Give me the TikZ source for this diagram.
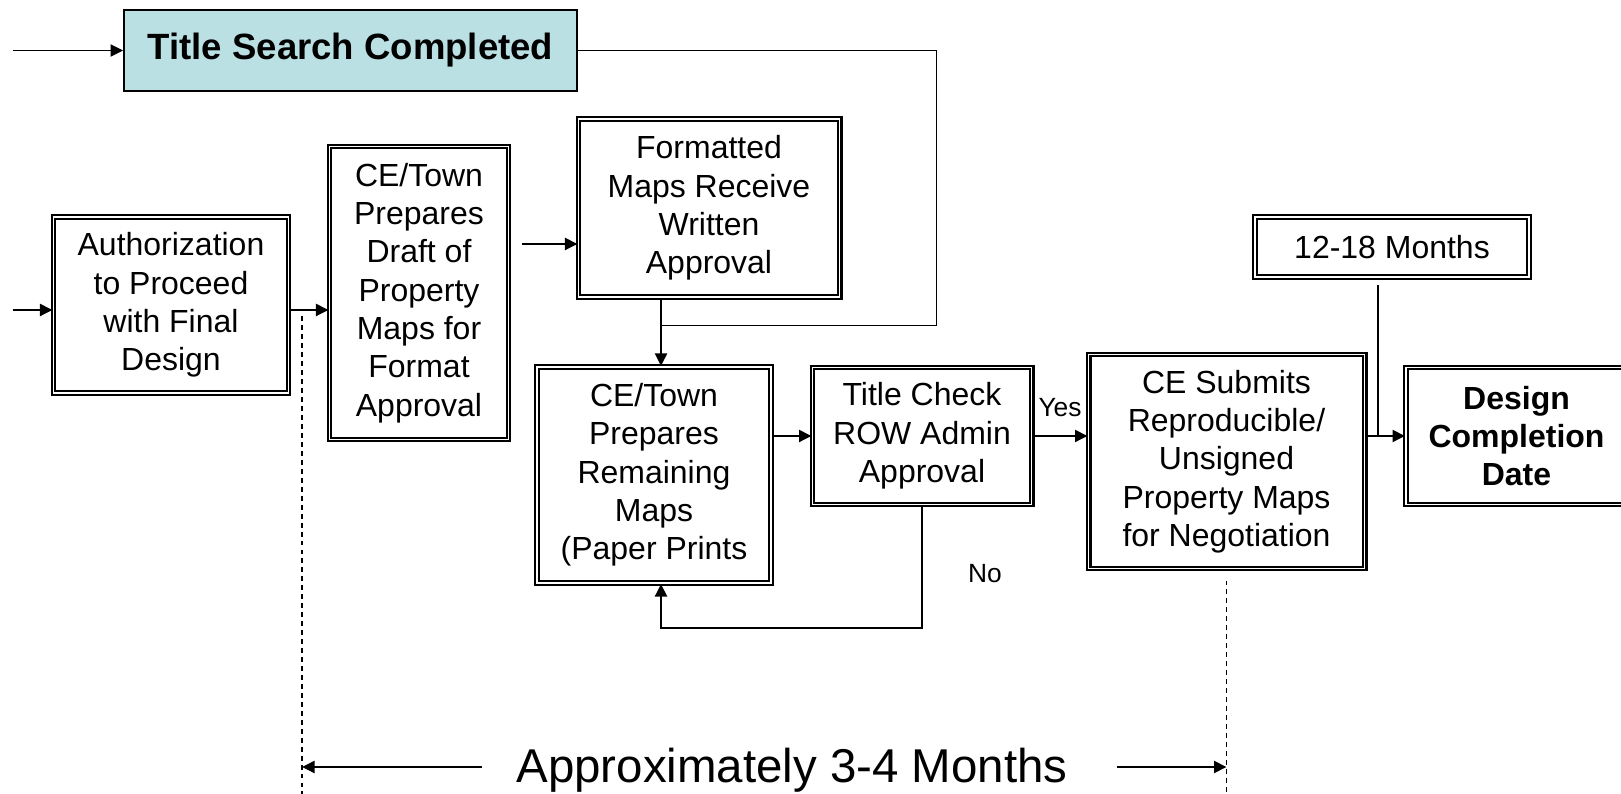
\documentclass[tikz,border=0pt]{standalone}
\usepackage{fontspec}
\setmainfont{Liberation Sans}
\usepackage{xcolor}
\usetikzlibrary{arrows.meta,positioning,calc}
\definecolor{title-cyan}{RGB}{187,224,227}

\begin{document}
\begin{tikzpicture}
  [node distance=3cm, on grid, stage/.style = {shape=rectangle,
    draw, line width=1.15pt, double, double distance=1.1pt,
    align=center, inner sep=2pt,
    font=\fontsize{18.2}{21.8}\selectfont}, banner/.style =
  {shape=rectangle, draw, line width=1pt, fill=title-cyan,
    font=\bfseries\fontsize{20.8}{25}\selectfont}, post/.style =
  {-{Triangle[length=0.25cm,width=0.24cm]}, line width=1.1pt},
  link/.style = {line width=0.9pt}, span/.style = {line width=0.7pt,
    dash pattern=on 2.8pt off 2.3pt}, note/.style =
  {font=\fontsize{15}{18}\selectfont, inner sep=0pt}]

  \path[use as bounding box, clip] (0,0) rectangle (32.42,15.88);

  \node [banner, minimum width=9.06cm, minimum height=1.63cm]
  (Title) at (7.01,14.87) {Title Search Completed};
  \node [stage, minimum width=4.7cm, minimum height=3.52cm] (Auth)
  at (3.42,9.78) {Authorization\\to Proceed\\with Final\\Design};
  \node [stage, minimum width=3.58cm, minimum height=5.86cm,
  above right=0.24cm and 4.96cm of Auth] (Draft)
  {CE/Town\\Prepares\\Draft of\\Property\\Maps for\\Format\\Approval};
  \node [stage, minimum width=5.22cm, minimum height=3.56cm,
  above right=1.7cm and 5.8cm of Draft] (Formatted)
  {Formatted\\Maps Receive\\Written\\Approval};
  \node [stage, minimum width=4.68cm, minimum height=4.32cm,
  below left=5.34cm and 1.1cm of Formatted] (Remaining)
  {CE/Town\\Prepares\\Remaining\\Maps\\(Paper Prints};
  \node [stage, minimum width=4.38cm, minimum height=2.74cm,
  above right=0.78cm and 5.36cm of Remaining] (Check)
  {Title Check\\ROW Admin\\Approval};
  \node [stage, minimum width=5.52cm, minimum height=4.28cm,
  below right=0.51cm and 6.09cm of Check] (Submit)
  {CE Submits\\Reproducible/\\Unsigned\\Property Maps\\for Negotiation};
  \node [stage, minimum width=4.42cm, minimum height=2.74cm,
  font=\bfseries\fontsize{18.2}{21.8}\selectfont,
  above right=0.51cm and 5.8cm of Submit] (Design)
  {Design\\Completion\\Date};
  \node [stage, minimum width=5.48cm, minimum height=1.2cm] (Months)
  at (27.84,10.94) {12-18 Months};

  % free ends and bends
  \coordinate (tin) at (0.25,14.87);
  \coordinate (ain) at (0.25,9.68);
  \coordinate (fin) at (10.44,11.0);
  \coordinate (bend) at (18.73,9.37);
  \coordinate (join) at (13.22,9.37);
  \coordinate (back) at (13.22,3.32);
  \coordinate (tap) at (27.56,7.16);
  \coordinate (ltop) at (6.04,9.55);
  \coordinate (lbot) at (6.04,0);
  \coordinate (lo) at (6.04,0.54);
  \coordinate (lstart) at (9.63,0.54);
  \coordinate (rstart) at (22.33,0.54);

  \draw[post] (tin) -- (Title.west);
  \draw[link] (Title.east) -| (bend) -- (join);
  \draw[post] (ain) -- (ain -| Auth.west);
  \draw[post] (Auth.east |- ain) -- (Draft.west |- ain);
  \draw[post] (fin) -- (fin -| Formatted.west);
  \draw[post] (Formatted.south -| join) -- (Remaining.north -| join);
  \draw[post] (Remaining.east |- Check) -- (Check.west);
  \draw[post] (Check.east) -- (Check.east -| Submit.west)
  node[note, midway, yshift=0.56cm] (yes) {Yes};
  \draw[post] (Check.south) |- (back) -- (Remaining.south -| back);
  \node[note] (no) at (19.7,4.4) {No};
  \draw[post] (Submit.east |- Design) -- (Design.west);
  \draw[link] ([yshift=-0.14cm]Months.south -| tap) -- (tap);

  \draw[span] (ltop) -- (lbot);
  \draw[span] ([yshift=-0.22cm]Submit.south) -- (Submit.south |- lbot);
  \node[font=\fontsize{27}{32}\selectfont, anchor=base] (period)
  at (15.84,0.23) {Approximately 3-4 Months};
  \draw[post] (lstart) -- (lo);
  \draw[post] (rstart) -- (Submit.south |- lo);
\end{tikzpicture}
\end{document}
